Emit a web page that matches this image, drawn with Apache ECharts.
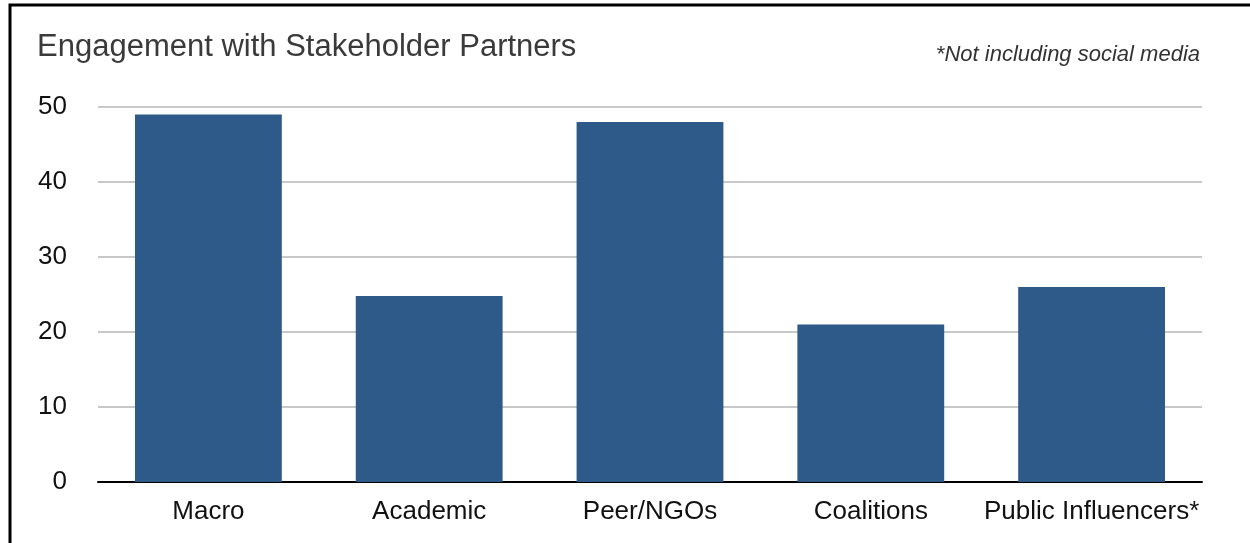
<!DOCTYPE html>
<html>
<head>
<meta charset="utf-8">
<title>Engagement with Stakeholder Partners</title>
<script src="https://cdn.jsdelivr.net/npm/echarts@6/dist/echarts.min.js"></script>
<style>
  html, body { margin: 0; padding: 0; background: #fff; }
  #chart { width: 1250px; height: 543px; }
</style>
</head>
<body>
<div id="chart"></div>
<script>
// categories and values
const categories = ['Macro', 'Academic', 'Peer/NGOs', 'Coalitions', 'Public Influencers*']
const values = [49, 24.8, 48, 21, 26]
const yTicks = [0, 10, 20, 30, 40, 50]

const font = 'Helvetica Neue, Liberation Sans, Arial, sans-serif'

const mychart = echarts.init(document.getElementById('chart'))
mychart.setOption({
  animation: false,
  title: [
    {
      text: 'Engagement with Stakeholder Partners',
      left: 32,
      top: 27,
      textStyle: { fontFamily: font, fontSize: 31, fontWeight: 'normal', color: '#3a3a3a' },
    },
    {
      text: '*Not including social media',
      right: 45,
      top: 39,
      textStyle: { fontFamily: font, fontSize: 22, fontStyle: 'italic', fontWeight: 'normal', color: '#333' },
    },
  ],
  // frame on the left and top
  graphic: [
    {
      type: 'rect',
      shape: { x: 10, y: 5, width: 1300, height: 600 },
      style: { fill: 'none', stroke: '#000', lineWidth: 3 },
      silent: true,
    },
  ],
  grid: { left: 98, right: 48, top: 107, bottom: 61 },
  xAxis: {
    type: 'category',
    data: categories,
    axisLine: { lineStyle: { color: '#000', width: 2 } },
    axisTick: { show: false },
    axisLabel: { interval: 0, hideOverlap: false, color: '#111', fontFamily: font, fontSize: 26, margin: 17 },
  },
  yAxis: {
    type: 'value',
    min: yTicks[0],
    max: yTicks[yTicks.length - 1],
    interval: 10,
    axisLine: { show: false },
    axisTick: { show: false },
    axisLabel: { color: '#111', fontFamily: font, fontSize: 26, margin: 31, padding: [5, 0, 0, 0] },
    splitLine: { lineStyle: { color: '#c8c8c8', width: 2 } },
  },
  series: [
    {
      type: 'bar',
      data: values,
      barWidth: '66.5%',
      itemStyle: { color: '#2e5a8a' },
    },
  ],
})
</script>
</body>
</html>
